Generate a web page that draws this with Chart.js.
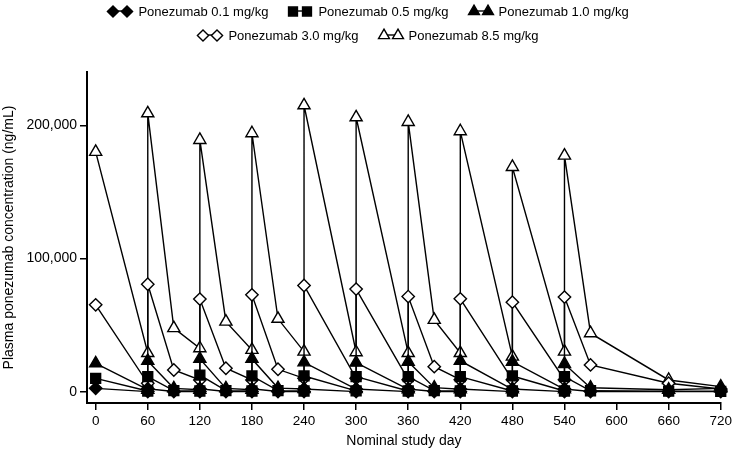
<!DOCTYPE html>
<html>
<head>
<meta charset="utf-8">
<script src="https://cdn.jsdelivr.net/npm/chart.js@4/dist/chart.umd.min.js"></script>
<style>
  html, body { margin: 0; padding: 0; background: #fff; }
  #wrap { position: relative; width: 735px; height: 453px; }
  #legend { position: absolute; left: 0; top: -1px; width: 735px; font: 13px "Liberation Sans", Arial, sans-serif; color: #000; }
  .row { display: flex; justify-content: center; align-items: center; height: 24px; }
  .item { display: flex; align-items: center; margin: 0 9px; white-space: nowrap; }
  .item canvas { margin-right: 4px; }
</style>
</head>
<body>
<div id="wrap">
  <canvas id="chart" width="735" height="453"></canvas>
  <div id="legend"></div>
</div>
<script>
// sampling days: at each dosing day there is a pre-dose trough then a post-dose peak
const sampleDays = [0, 60, 60, 90, 120, 120, 150, 180, 180, 210, 240, 240, 300, 300,
                    360, 360, 390, 420, 420, 480, 480, 540, 540, 570, 660, 720];

// plasma concentration (ng/mL)
const dose01 = [2500, 50, 2200, 150, 50, 2200, 150, 50, 2100, 150, 50, 2000, 50, 2000,
                50, 2000, 150, 50, 2000, 50, 2000, 50, 2000, 150, 50, 50];
const dose05 = [10000, 500, 11300, 800, 500, 12500, 800, 500, 11800, 800, 500, 11800, 600, 11300,
                500, 11300, 800, 500, 11300, 500, 11800, 500, 11300, 700, 400, 300];
const dose10 = [21300, 1500, 23100, 2500, 1500, 24600, 2500, 1500, 24600, 2700, 2000, 22000, 2000, 21800,
                1800, 22500, 3000, 1800, 23200, 1800, 22500, 1800, 20800, 3000, 1500, 2500];
const dose30 = [65200, 6300, 80700, 16300, 8800, 69500, 17600, 8800, 72700, 16800, 10000, 79700, 10000, 77000,
                9000, 71400, 18800, 9000, 69700, 9000, 67200, 9000, 71000, 20100, 6300, 2000];
const dose85 = [180000, 29000, 209000, 47700, 32600, 189000, 52600, 31400, 194000, 54700, 30100, 215000, 29600, 206000,
                29000, 202500, 53900, 29000, 195500, 26300, 168700, 30100, 177200, 43900, 8800, 3800];

const seriesLabels = ["Ponezumab 0.1 mg/kg", "Ponezumab 0.5 mg/kg", "Ponezumab 1.0 mg/kg",
                      "Ponezumab 3.0 mg/kg", "Ponezumab 8.5 mg/kg"];
const xTickDays = [0, 60, 120, 180, 240, 300, 360, 420, 480, 540, 600, 660, 720];
const yTickValues = [0, 100000, 200000];

const styles = [
  { shape: "rectRot",  r: 6.2, fill: "#000" },
  { shape: "rect",     r: 7,   fill: "#000" },
  { shape: "triangle", r: 7,   fill: "#000" },
  { shape: "rectRot",  r: 6.2, fill: "#fff" },
  { shape: "triangle", r: 7,   fill: "#fff" }
];
const allSeries = [dose01, dose05, dose10, dose30, dose85];

const datasets = allSeries.map((vals, i) => ({
  label: seriesLabels[i],
  data: vals.map((v, j) => ({ x: sampleDays[j], y: v })),
  borderColor: "#000",
  borderWidth: 1.4,
  tension: 0,
  pointStyle: styles[i].shape,
  pointRadius: styles[i].r,
  pointBackgroundColor: styles[i].fill,
  pointBorderColor: "#000",
  pointBorderWidth: 1.4,
  clip: false
}));

// legend: two markers joined by a short line, in two centred rows
function legendSymbol(st) {
  const c = document.createElement("canvas");
  c.width = 28; c.height = 16;
  const ctx = c.getContext("2d");
  ctx.strokeStyle = "#000";
  ctx.lineWidth = 1.4;
  ctx.beginPath(); ctx.moveTo(7, 8); ctx.lineTo(21, 8); ctx.stroke();
  ctx.fillStyle = st.fill;
  [7, 21].forEach(x => {
    Chart.helpers.drawPoint(ctx, { pointStyle: st.shape, radius: st.r * 0.9, borderWidth: 1.4, rotation: 0 }, x, 8.5);
  });
  return c;
}
const legend = document.getElementById("legend");
[[0, 1, 2], [3, 4]].forEach(idx => {
  const row = document.createElement("div");
  row.className = "row";
  idx.forEach(i => {
    const item = document.createElement("div");
    item.className = "item";
    item.appendChild(legendSymbol(styles[i]));
    const span = document.createElement("span");
    span.textContent = seriesLabels[i];
    item.appendChild(span);
    row.appendChild(item);
  });
  legend.appendChild(row);
});

const family = '"Liberation Sans", Arial, sans-serif';

new Chart(document.getElementById("chart"), {
  type: "line",
  data: { datasets },
  options: {
    responsive: false,
    animation: false,
    layout: { padding: { top: 72, right: 14, left: 0, bottom: 0 } },
    plugins: { legend: { display: false }, tooltip: { enabled: false } },
    scales: {
      x: {
        type: "linear",
        min: -10,
        max: 720,
        afterBuildTicks: s => { s.ticks = xTickDays.map(v => ({ value: v })); },
        afterFit: s => { s.height = 50; },
        grid: { drawOnChartArea: false, drawTicks: true, tickLength: 7, color: "#000", lineWidth: 1.5 },
        border: { color: "#000", width: 2 },
        ticks: { color: "#000", font: { family, size: 13.5 }, padding: 3, maxRotation: 0 },
        title: { display: true, text: "Nominal study day", color: "#000", font: { family, size: 14 }, padding: { top: 4, bottom: 3 } }
      },
      y: {
        min: -8500,
        max: 240000,
        afterBuildTicks: s => { s.ticks = yTickValues.map(v => ({ value: v })); },
        afterFit: s => { s.width = 87; },
        grid: { drawOnChartArea: false, drawTicks: true, tickLength: 7, color: "#000", lineWidth: 1.5 },
        border: { color: "#000", width: 2 },
        ticks: { color: "#000", font: { family, size: 14 }, padding: 3 },
        title: { display: true, text: "Plasma ponezumab concentration (ng/mL)", color: "#000", font: { family, size: 14 }, padding: { top: 1, bottom: 2 } }
      }
    }
  }
});
</script>
</body>
</html>
